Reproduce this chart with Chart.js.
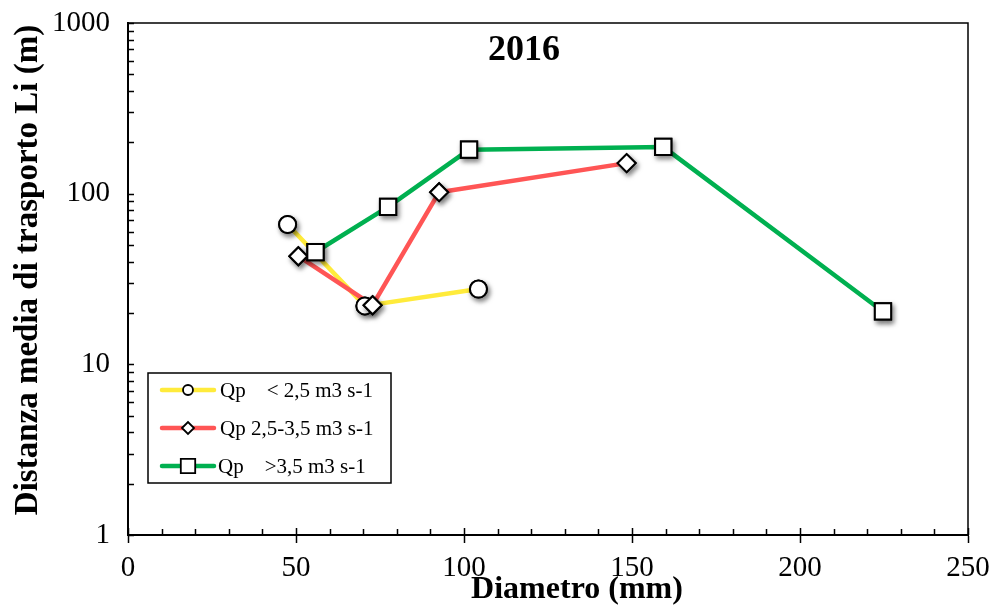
<!DOCTYPE html>
<html>
<head>
<meta charset="utf-8">
<script src="https://cdn.jsdelivr.net/npm/chart.js@4/dist/chart.umd.min.js"></script>
<style>
  html, body { margin: 0; padding: 0; background: #fff; }
  #wrap { width: 994px; height: 608px; }
</style>
</head>
<body>
<div id="wrap"><canvas id="c" width="994" height="608"></canvas></div>
<script>
// Distanza media di trasporto vs diametro, stagione 2016
const seriesLabels = ['Qp    < 2,5 m3 s-1', 'Qp 2,5-3,5 m3 s-1', 'Qp    >3,5 m3 s-1'];
const lowDiam  = [47.5, 70.5, 104.3];
const lowDist  = [66, 22, 27.6];
const midDiam  = [50.7, 72.8, 92.6, 148.4];
const midDist  = [43, 22.2, 102, 151];
const highDiam = [55.8, 77.4, 101.5, 159.3, 224.7];
const highDist = [45.5, 83.6, 181, 188, 20.4];
const xTicks = [0, 50, 100, 150, 200, 250];
const yTicks = [1, 10, 100, 1000];
const chartTitle = '2016';
const xTitle = 'Diametro (mm)';
const yTitle = 'Distanza media di trasporto Li (m)';

const SERIF = '"Liberation Serif", "Times New Roman", serif';
const colors = ['#FFEB3B', '#FF5555', '#00B050'];
const styles = ['circle', 'rectRot', 'rect'];
const radii = [8.5, 9, 11.5];
const legendRadii = [5, 6, 7.2];

const pts = (xs, ys) => xs.map((x, i) => ({ x: x, y: ys[i] }));
const seriesData = [pts(lowDiam, lowDist), pts(midDiam, midDist), pts(highDiam, highDist)];

const datasets = [];
seriesData.forEach((d, i) => {
  datasets.push({
    label: seriesLabels[i],
    data: d,
    showLine: true,
    borderColor: colors[i],
    borderWidth: 4.5,
    pointRadius: 0,
    pointHoverRadius: 0,
    borderCapStyle: 'round',
    borderJoinStyle: 'round',
    fill: false,
    tension: 0,
    order: 6 - i
  });
});
seriesData.forEach((d, i) => {
  datasets.push({
    label: seriesLabels[i] + ' markers',
    data: d,
    showLine: false,
    pointStyle: styles[i],
    pointRadius: radii[i],
    pointHoverRadius: radii[i],
    pointBackgroundColor: '#ffffff',
    pointBorderColor: '#000000',
    pointBorderWidth: 2,
    order: 3 - i,
    markerShadow: true
  });
});

// markers get a soft drop shadow; they are then redrawn crisp on top
const markerShadow = {
  id: 'markerShadow',
  beforeDatasetDraw(chart, args) {
    const ds = chart.data.datasets[args.index];
    if (!ds.markerShadow) return;
    const ctx = chart.ctx;
    ctx.save();
    ctx.shadowColor = 'rgba(0,0,0,0.5)';
    ctx.shadowBlur = 5;
    ctx.shadowOffsetX = 2;
    ctx.shadowOffsetY = 3;
  },
  afterDatasetDraw(chart, args) {
    const ds = chart.data.datasets[args.index];
    if (!ds.markerShadow) return;
    const ctx = chart.ctx;
    ctx.restore();
    args.meta.data.forEach(el => el.draw(ctx, chart.chartArea));
  }
};

const frameAndTicks = {
  id: 'frameAndTicks',
  afterDraw(chart) {
    const ctx = chart.ctx;
    const a = chart.chartArea;
    const xs = chart.scales.x, ys = chart.scales.y;
    ctx.save();
    ctx.strokeStyle = '#000';
    ctx.lineWidth = 1.5;
    ctx.beginPath();
    ctx.moveTo(a.left, a.top);
    ctx.lineTo(a.right, a.top);
    ctx.lineTo(a.right, a.bottom);
    ctx.stroke();
    // inner x ticks: minor every 10, major every 50
    ctx.beginPath();
    for (let v = 0; v <= 250; v += 10) {
      const px = Math.round(xs.getPixelForValue(v)) + 0.5;
      const len = xTicks.includes(v) ? 7 : 6;
      ctx.moveTo(px, a.bottom);
      ctx.lineTo(px, a.bottom - len);
    }
    ctx.stroke();
    // inner y ticks on logarithmic steps
    ctx.beginPath();
    for (let e = 0; e < 3; e++) {
      for (let k = 1; k <= 10; k++) {
        const v = k * Math.pow(10, e);
        const py = Math.round(ys.getPixelForValue(v)) + 0.5;
        ctx.moveTo(a.left, py);
        ctx.lineTo(a.left + 6, py);
      }
    }
    ctx.stroke();
    ctx.restore();
  }
};

const textLayer = {
  id: 'textLayer',
  afterDraw(chart) {
    const ctx = chart.ctx;
    ctx.save();
    ctx.fillStyle = '#000';
    ctx.textAlign = 'center';
    ctx.textBaseline = 'middle';
    ctx.font = 'bold 36px ' + SERIF;
    ctx.fillText(chartTitle, 524, 51);
    ctx.font = 'bold 32px ' + SERIF;
    ctx.fillText(xTitle, 577, 590);
    ctx.translate(28, 270);
    ctx.rotate(-Math.PI / 2);
    ctx.font = 'bold 33px ' + SERIF;
    ctx.fillText(yTitle, 0, 0);
    ctx.restore();
  }
};

const boxLegend = {
  id: 'boxLegend',
  afterDraw(chart) {
    const ctx = chart.ctx;
    ctx.save();
    ctx.fillStyle = '#fff';
    ctx.fillRect(148, 373, 243, 110);
    ctx.strokeStyle = '#000';
    ctx.lineWidth = 1.5;
    ctx.strokeRect(148, 373, 243, 110);
    const rows = [390, 428, 466];
    seriesLabels.forEach((lbl, i) => {
      const y = rows[i];
      ctx.strokeStyle = colors[i];
      ctx.lineWidth = 4.5;
      ctx.lineCap = 'round';
      ctx.beginPath();
      ctx.moveTo(162, y);
      ctx.lineTo(214, y);
      ctx.stroke();
      ctx.fillStyle = '#fff';
      ctx.strokeStyle = '#000';
      ctx.lineWidth = 1.8;
      ctx.beginPath();
      const r = legendRadii[i];
      if (styles[i] === 'circle') {
        ctx.arc(188, y, r, 0, Math.PI * 2);
      } else if (styles[i] === 'rectRot') {
        ctx.moveTo(188 - r, y); ctx.lineTo(188, y - r); ctx.lineTo(188 + r, y); ctx.lineTo(188, y + r); ctx.closePath();
      } else {
        ctx.rect(188 - r, y - r, 2 * r, 2 * r);
      }
      ctx.fill();
      ctx.stroke();
      ctx.fillStyle = '#000';
      ctx.font = '21px ' + SERIF;
      ctx.textAlign = 'left';
      ctx.textBaseline = 'middle';
      ctx.fillText(lbl, i === 2 ? 218 : 220, y + 1);
    });
    ctx.restore();
  }
};

new Chart(document.getElementById('c'), {
  type: 'scatter',
  data: { datasets: datasets },
  options: {
    responsive: false,
    animation: false,
    devicePixelRatio: 1,
    layout: { padding: { top: 23, right: 26, left: 0, bottom: 0 } },
    plugins: {
      legend: { display: false },
      tooltip: { enabled: false },
      title: { display: false }
    },
    scales: {
      x: {
        type: 'linear',
        min: 0,
        max: 250,
        afterBuildTicks(scale) { scale.ticks = xTicks.map(v => ({ value: v })); },
        ticks: {
          color: '#000',
          font: { family: SERIF, size: 29 },
          padding: 8,
          maxRotation: 0
        },
        grid: { drawOnChartArea: false, tickLength: 8, tickColor: '#000', tickWidth: 1.5 },
        border: { display: true, color: '#000', width: 2 },
        afterFit(scale) {
          scale.height = 73;
          scale.paddingLeft = 0;
          scale.paddingRight = 0;
        }
      },
      y: {
        type: 'logarithmic',
        min: 1,
        max: 1000,
        afterBuildTicks(scale) { scale.ticks = yTicks.map(v => ({ value: v })); },
        ticks: {
          color: '#000',
          font: { family: SERIF, size: 29 },
          padding: 10,
          autoSkip: false,
          callback: (v) => String(v)
        },
        grid: { display: false },
        border: { display: true, color: '#000', width: 2 },
        afterFit(scale) {
          scale.width = 128;
          scale.paddingTop = 0;
          scale.paddingBottom = 0;
        }
      }
    }
  },
  plugins: [markerShadow, frameAndTicks, textLayer, boxLegend]
});
</script>
</body>
</html>
